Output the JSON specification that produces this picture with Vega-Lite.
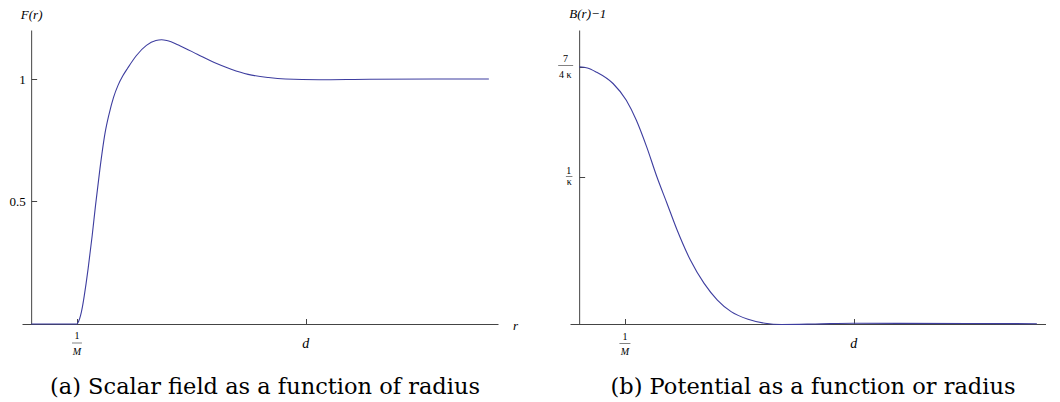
{
  "$schema": "https://vega.github.io/schema/vega-lite/v6.json",
  "background": "white",
  "padding": {"left": 8, "top": 7, "right": 0, "bottom": 0},
  "bounds": "flush",
  "spacing": 72,
  "config": {
    "view": {"stroke": null},
    "font": "Liberation Serif",
    "axis": {
      "grid": false,
      "domainColor": "#444444",
      "tickColor": "#444444",
      "domainWidth": 1,
      "tickWidth": 1,
      "labelFont": "Liberation Serif",
      "labelColor": "black",
      "titleFont": "Liberation Serif",
      "titleColor": "black",
      "titleFontWeight": "normal",
      "titleFontStyle": "italic"
    }
  },
  "hconcat": [
    {
      "width": 476,
      "height": 294,
      "title": {
        "text": "(a) Scalar field as a function of radius",
        "orient": "bottom",
        "frame": "group",
        "anchor": "middle",
        "font": "DejaVu Serif",
        "fontSize": 22.5,
        "fontWeight": "normal",
        "color": "black",
        "offset": 19,
        "dx": 5
      },
      "layer": [
        {
          "data": {"values": [
            {"r": 0, "F": 0}, {"r": 1.0, "F": 0}, {"r": 1.04, "F": 0.012}, {"r": 1.08, "F": 0.035},
            {"r": 1.12, "F": 0.07}, {"r": 1.16, "F": 0.115}, {"r": 1.2, "F": 0.165},
            {"r": 1.244, "F": 0.225}, {"r": 1.333, "F": 0.36}, {"r": 1.407, "F": 0.485},
            {"r": 1.504, "F": 0.635}, {"r": 1.615, "F": 0.78}, {"r": 1.7, "F": 0.855},
            {"r": 1.8, "F": 0.925}, {"r": 1.9, "F": 0.975}, {"r": 2.0, "F": 1.012},
            {"r": 2.111, "F": 1.045}, {"r": 2.296, "F": 1.095}, {"r": 2.518, "F": 1.137},
            {"r": 2.726, "F": 1.157}, {"r": 2.85, "F": 1.16}, {"r": 2.963, "F": 1.157},
            {"r": 3.259, "F": 1.135}, {"r": 3.629, "F": 1.101}, {"r": 4.0, "F": 1.067},
            {"r": 4.37, "F": 1.04}, {"r": 4.74, "F": 1.019}, {"r": 5.185, "F": 1.006},
            {"r": 5.555, "F": 1.0}, {"r": 6.29, "F": 0.997}, {"r": 7.4, "F": 0.999},
            {"r": 10.0, "F": 1.0}
          ]},
          "mark": {"type": "line", "color": "#3d3d9f", "strokeWidth": 1.1, "interpolate": "monotone"},
          "encoding": {
            "x": {
              "field": "r", "type": "quantitative",
              "scale": {"domain": [-0.2, 10.2], "nice": false, "zero": false},
              "axis": {
                "values": [1, 6], "tickSize": -5.5, "labels": false,
                "title": "r", "titleFontSize": 13, "titleX": 493, "titleY": 5,
                "titleAlign": "center", "titleBaseline": "alphabetic"
              }
            },
            "y": {
              "field": "F", "type": "quantitative",
              "scale": {"domain": [0, 1.2], "nice": false, "zero": false},
              "axis": {
                "values": [0.5, 1], "tickSize": -5.5, "offset": -9.15, "format": "~g",
                "labelFontSize": 13, "labelPadding": 11.5,
                "title": "F(r)", "titleAngle": 0, "titleX": 0, "titleY": -12,
                "titleAlign": "center", "titleBaseline": "alphabetic", "titleFontSize": 13
              }
            }
          }
        },
        {
          "data": {"values": [{"r": 1, "t": "1"}]},
          "mark": {"type": "text", "color": "black", "font": "Liberation Serif", "fontSize": 10, "dy": 15, "baseline": "alphabetic", "align": "center"},
          "encoding": {
            "x": {"field": "r", "type": "quantitative"},
            "y": {"datum": 0, "type": "quantitative"},
            "text": {"field": "t"}
          }
        },
        {
          "data": {"values": [{"r": 1, "t": "M"}]},
          "mark": {"type": "text", "color": "black", "font": "Liberation Serif", "fontSize": 10, "fontStyle": "italic", "dy": 30.7, "baseline": "alphabetic", "align": "center"},
          "encoding": {
            "x": {"field": "r", "type": "quantitative"},
            "y": {"datum": 0, "type": "quantitative"},
            "text": {"field": "t"}
          }
        },
        {
          "data": {"values": [{"r": 1}]},
          "mark": {"type": "tick", "color": "black", "orient": "horizontal", "size": 10, "thickness": 0.7, "yOffset": 19},
          "encoding": {
            "x": {"field": "r", "type": "quantitative"},
            "y": {"datum": 0, "type": "quantitative"}
          }
        },
        {
          "data": {"values": [{"r": 6, "t": "d"}]},
          "mark": {"type": "text", "color": "black", "font": "Liberation Serif", "fontSize": 14, "fontStyle": "italic", "dy": 24, "baseline": "alphabetic", "align": "center"},
          "encoding": {
            "x": {"field": "r", "type": "quantitative"},
            "y": {"datum": 0, "type": "quantitative"},
            "text": {"field": "t"}
          }
        }
      ]
    },
    {
      "width": 476,
      "height": 294,
      "title": {
        "text": "(b) Potential as a function or radius",
        "orient": "bottom",
        "frame": "group",
        "anchor": "middle",
        "font": "DejaVu Serif",
        "fontSize": 22.5,
        "fontWeight": "normal",
        "color": "black",
        "offset": 19,
        "dx": 5
      },
      "layer": [
        {
          "data": {"values": [
            {"r": 0, "V": 1.75}, {"r": 0.18, "V": 1.742}, {"r": 0.37, "V": 1.715},
            {"r": 0.74, "V": 1.636}, {"r": 1.03, "V": 1.522}, {"r": 1.25, "V": 1.386},
            {"r": 1.475, "V": 1.205}, {"r": 1.7, "V": 1.0}, {"r": 1.92, "V": 0.82},
            {"r": 2.14, "V": 0.639}, {"r": 2.43, "V": 0.435}, {"r": 2.73, "V": 0.276},
            {"r": 3.02, "V": 0.163}, {"r": 3.32, "V": 0.084}, {"r": 3.69, "V": 0.032},
            {"r": 4.06, "V": 0.005}, {"r": 4.42, "V": -0.003}, {"r": 5.16, "V": 0.0},
            {"r": 6.0, "V": 0.005}, {"r": 7.0, "V": 0.004}, {"r": 8.5, "V": 0.003},
            {"r": 10.0, "V": 0.002}
          ]},
          "mark": {"type": "line", "color": "#3d3d9f", "strokeWidth": 1.1, "interpolate": "monotone"},
          "encoding": {
            "x": {
              "field": "r", "type": "quantitative",
              "scale": {"domain": [-0.2, 10.2], "nice": false, "zero": false},
              "axis": {"values": [1, 6], "tickSize": -5.5, "labels": false, "title": null}
            },
            "y": {
              "field": "V", "type": "quantitative",
              "scale": {"domain": [0, 2], "nice": false, "zero": false},
              "axis": {
                "values": [1, 1.75], "tickSize": -5.5, "offset": -9.15, "labels": false,
                "title": "B(r)\u22121", "titleAngle": 0, "titleX": -10.3, "titleY": -13,
                "titleAlign": "left", "titleBaseline": "alphabetic", "titleFontSize": 13
              }
            }
          }
        },
        {
          "data": {"values": [{"r": 1, "t": "1"}]},
          "mark": {"type": "text", "color": "black", "font": "Liberation Serif", "fontSize": 10, "dy": 16, "baseline": "alphabetic", "align": "center"},
          "encoding": {
            "x": {"field": "r", "type": "quantitative"},
            "y": {"datum": 0, "type": "quantitative"},
            "text": {"field": "t"}
          }
        },
        {
          "data": {"values": [{"r": 1, "t": "M"}]},
          "mark": {"type": "text", "color": "black", "font": "Liberation Serif", "fontSize": 10, "fontStyle": "italic", "dy": 30.7, "baseline": "alphabetic", "align": "center"},
          "encoding": {
            "x": {"field": "r", "type": "quantitative"},
            "y": {"datum": 0, "type": "quantitative"},
            "text": {"field": "t"}
          }
        },
        {
          "data": {"values": [{"r": 1}]},
          "mark": {"type": "tick", "color": "black", "orient": "horizontal", "size": 11, "thickness": 0.7, "yOffset": 19.5},
          "encoding": {
            "x": {"field": "r", "type": "quantitative"},
            "y": {"datum": 0, "type": "quantitative"}
          }
        },
        {
          "data": {"values": [{"r": 6, "t": "d"}]},
          "mark": {"type": "text", "color": "black", "font": "Liberation Serif", "fontSize": 14, "fontStyle": "italic", "dy": 24, "baseline": "alphabetic", "align": "center"},
          "encoding": {
            "x": {"field": "r", "type": "quantitative"},
            "y": {"datum": 0, "type": "quantitative"},
            "text": {"field": "t"}
          }
        },
        {
          "data": {"values": [{"v": 1.75, "t": "7"}]},
          "mark": {"type": "text", "color": "black", "font": "Liberation Serif", "fontSize": 10, "dx": -13.7, "dy": -4.5, "baseline": "alphabetic", "align": "center"},
          "encoding": {
            "x": {"datum": 0, "type": "quantitative"},
            "y": {"field": "v", "type": "quantitative"},
            "text": {"field": "t"}
          }
        },
        {
          "data": {"values": [{"v": 1.75, "t": "4 \u03ba"}]},
          "mark": {"type": "text", "color": "black", "font": "Liberation Serif", "fontSize": 10, "dx": -14, "dy": 11.5, "baseline": "alphabetic", "align": "center"},
          "encoding": {
            "x": {"datum": 0, "type": "quantitative"},
            "y": {"field": "v", "type": "quantitative"},
            "text": {"field": "t"}
          }
        },
        {
          "data": {"values": [{"v": 1.75}]},
          "mark": {"type": "tick", "color": "black", "orient": "horizontal", "size": 15, "thickness": 0.7, "xOffset": -13.5, "yOffset": -1.1},
          "encoding": {
            "x": {"datum": 0, "type": "quantitative"},
            "y": {"field": "v", "type": "quantitative"}
          }
        },
        {
          "data": {"values": [{"v": 1, "t": "1"}]},
          "mark": {"type": "text", "color": "black", "font": "Liberation Serif", "fontSize": 10, "dx": -10.3, "dy": -3.2, "baseline": "alphabetic", "align": "center"},
          "encoding": {
            "x": {"datum": 0, "type": "quantitative"},
            "y": {"field": "v", "type": "quantitative"},
            "text": {"field": "t"}
          }
        },
        {
          "data": {"values": [{"v": 1, "t": "\u03ba"}]},
          "mark": {"type": "text", "color": "black", "font": "Liberation Serif", "fontSize": 10, "dx": -10, "dy": 7.9, "baseline": "alphabetic", "align": "center"},
          "encoding": {
            "x": {"datum": 0, "type": "quantitative"},
            "y": {"field": "v", "type": "quantitative"},
            "text": {"field": "t"}
          }
        },
        {
          "data": {"values": [{"v": 1}]},
          "mark": {"type": "tick", "color": "black", "orient": "horizontal", "size": 6.5, "thickness": 0.7, "xOffset": -10, "yOffset": -0.5},
          "encoding": {
            "x": {"datum": 0, "type": "quantitative"},
            "y": {"field": "v", "type": "quantitative"}
          }
        }
      ]
    }
  ]
}
